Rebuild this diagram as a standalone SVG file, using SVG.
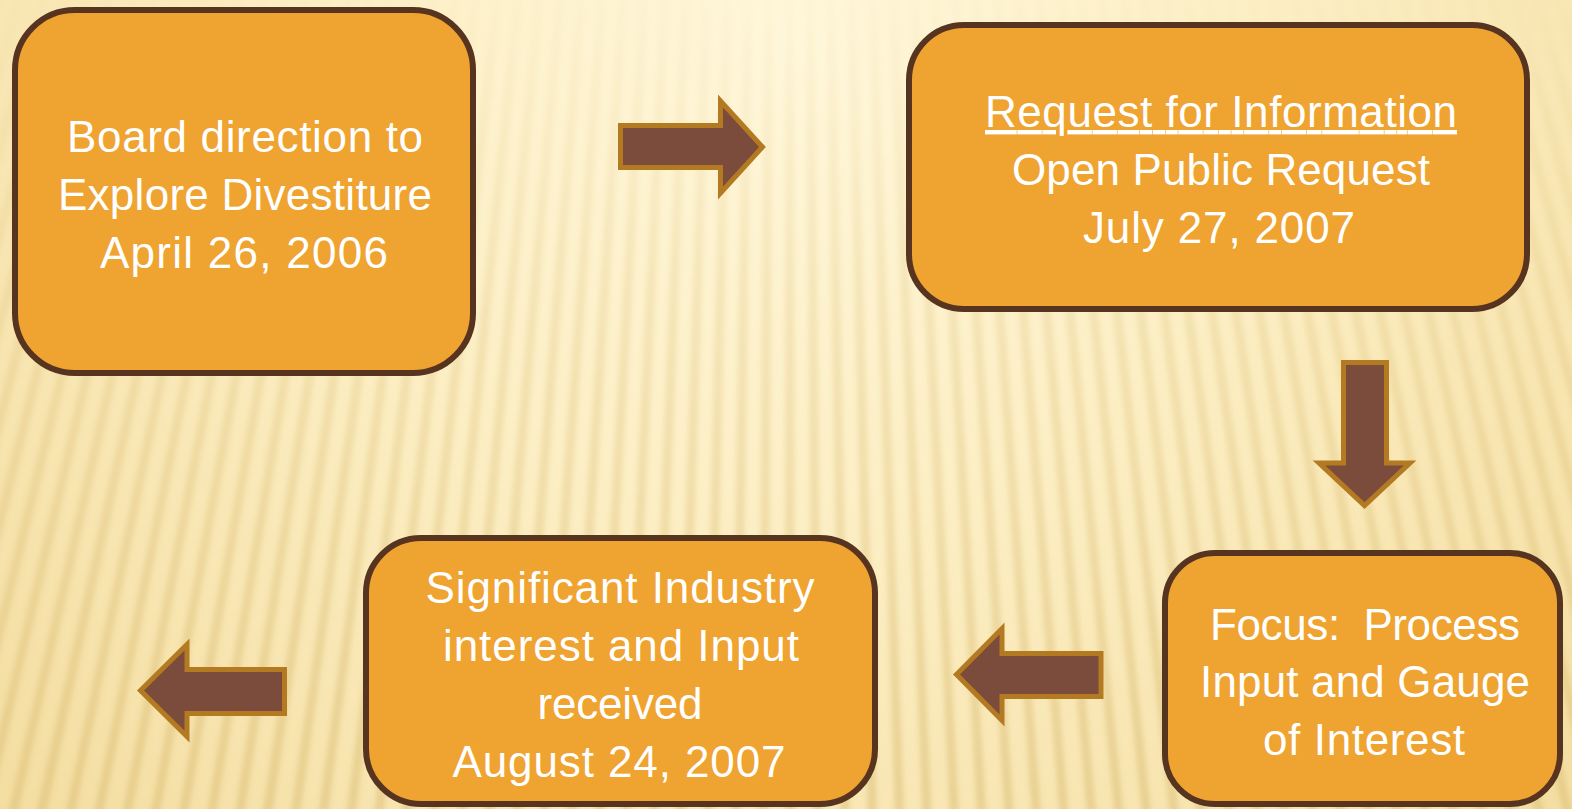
<svg xmlns="http://www.w3.org/2000/svg" width="1572" height="809" viewBox="0 0 1572 809">
<defs>
<radialGradient id="bg" gradientUnits="userSpaceOnUse" cx="790" cy="40" r="1150">
<stop offset="0" stop-color="#FFF7DA"/>
<stop offset="0.45" stop-color="#FCEEC3"/>
<stop offset="1" stop-color="#F3DC9E"/>
</radialGradient>
<linearGradient id="fadeG" x1="0" y1="0" x2="0" y2="1">
<stop offset="0" stop-color="#fff" stop-opacity="0.05"/>
<stop offset="0.35" stop-color="#fff" stop-opacity="0.45"/>
<stop offset="1" stop-color="#fff" stop-opacity="1"/>
</linearGradient>
<mask id="fade" maskUnits="userSpaceOnUse" x="0" y="0" width="1572" height="809">
<rect x="0" y="0" width="1572" height="809" fill="url(#fadeG)"/>
</mask>
<filter id="soft" filterUnits="userSpaceOnUse" x="0" y="0" width="1572" height="809">
<feGaussianBlur stdDeviation="2.5"/>
</filter>
</defs>
<style>
.box{fill:#EFA330;stroke:#57341F;stroke-width:6}
.arrow{fill:#7B4B3C;stroke:#B37A22;stroke-width:5;stroke-linejoin:miter}
.t{font-family:"Liberation Sans",Arial,sans-serif;font-size:44px;fill:#FFFFFF;text-anchor:middle;white-space:pre}
</style>
<g id="background">
<rect x="0" y="0" width="1572" height="809" fill="url(#bg)"/>
<g mask="url(#fade)">
<circle cx="786" cy="-2600" r="3000" fill="none" stroke="#DDBF78" stroke-opacity="0.55" stroke-width="1200" stroke-dasharray="9 15" filter="url(#soft)"/>
</g>
</g>
<g id="connectors">
<path class="arrow" d="M620.5,125.5 L720.5,125.5 L720.5,101 L762.5,147 L720.5,193 L720.5,167.5 L620.5,167.5 Z"/>
<path class="arrow" d="M1343.5,362.5 L1386.5,362.5 L1386.5,463 L1410,463 L1364.5,505.5 L1319,463 L1343.5,463 Z"/>
<path class="arrow" d="M956.5,674.5 L1002,628.5 L1002,653.5 L1101,653.5 L1101,696.5 L1002,696.5 L1002,720.5 Z"/>
<path class="arrow" d="M140.5,690.5 L187,644.5 L187,669.5 L284.5,669.5 L284.5,713.5 L187,713.5 L187,736.5 Z"/>
</g>
<g id="node1">
<rect class="box" x="15" y="10" width="458" height="363" rx="60" ry="60"/>
<text class="t" x="245" y="152" textLength="356">Board direction to</text>
<text class="t" x="245" y="210" textLength="374">Explore Divestiture</text>
<text class="t" x="244" y="268" textLength="288">April 26, 2006</text>
</g>
<g id="node2">
<rect class="box" x="909" y="25" width="618" height="284" rx="55" ry="55"/>
<text class="t" x="1221" y="127" textLength="472" text-decoration="underline">Request for Information</text>
<text class="t" x="1221" y="185" textLength="418">Open Public Request</text>
<text class="t" x="1219" y="243" textLength="272">July 27, 2007</text>
</g>
<g id="node3">
<rect class="box" x="1165" y="553" width="395" height="251" rx="50" ry="50"/>
<text class="t" x="1365" y="640" textLength="310">Focus:  Process</text>
<text class="t" x="1365" y="697" textLength="330">Input and Gauge</text>
<text class="t" x="1364" y="755" textLength="202">of Interest</text>
</g>
<g id="node4">
<rect class="box" x="366" y="538" width="509" height="266" rx="55" ry="55"/>
<text class="t" x="620" y="603" textLength="389">Significant Industry</text>
<text class="t" x="621" y="661" textLength="356">interest and Input</text>
<text class="t" x="620" y="719" textLength="165">received</text>
<text class="t" x="619" y="777" textLength="333">August 24, 2007</text>
</g>
</svg>
